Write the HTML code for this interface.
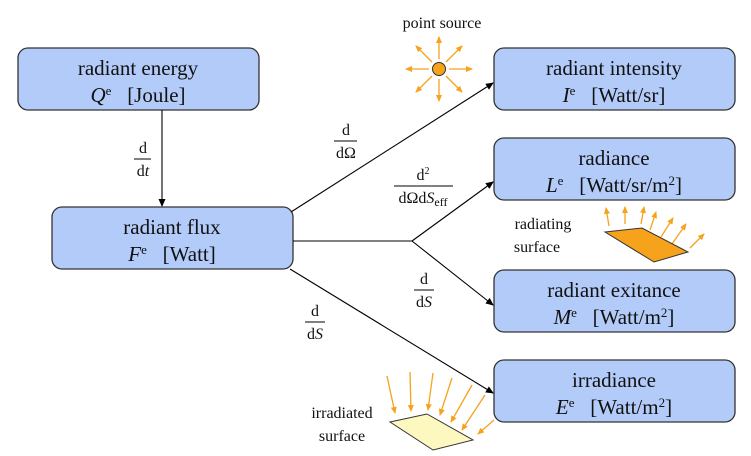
<!DOCTYPE html>
<html><head><style>body{margin:0;background:#fff}svg{display:block}text{font-family:"Liberation Serif",serif;fill:#111;white-space:pre}</style></head><body>
<svg width="751" height="456" viewBox="0 0 751 456" xmlns="http://www.w3.org/2000/svg">
<defs>
<marker id="a" markerWidth="8" markerHeight="8" refX="7" refY="4" orient="auto" markerUnits="userSpaceOnUse"><path d="M0,0.5 L8,4 L0,7.5z" fill="#000"/></marker>
<marker id="o" markerWidth="7" markerHeight="7" refX="6" refY="3.5" orient="auto" markerUnits="userSpaceOnUse"><path d="M0,0.5 L7,3.5 L0,6.5z" fill="#f7a21b"/></marker>
</defs>
<g fill="#b3cbf9" stroke="#333" stroke-width="1.3">
<rect x="18" y="48" width="241" height="62" rx="10"/>
<rect x="52" y="207" width="241" height="62" rx="10"/>
<rect x="494" y="48" width="241" height="62" rx="10"/>
<rect x="494" y="138" width="241" height="62" rx="10"/>
<rect x="494" y="270" width="241" height="62" rx="10"/>
<rect x="494" y="360" width="241" height="62" rx="10"/>
</g>
<g font-size="21" text-anchor="middle">
<text x="138" y="75">radiant energy</text>
<text x="138" y="102"><tspan font-style="italic">Q</tspan><tspan font-size="13" dy="-7">e</tspan><tspan dy="7">   [Joule]</tspan></text>
<text x="172" y="234">radiant flux</text>
<text x="172" y="261"><tspan font-style="italic">F</tspan><tspan font-size="13" dy="-7">e</tspan><tspan dy="7">   [Watt]</tspan></text>
<text x="614" y="75">radiant intensity</text>
<text x="614" y="102"><tspan font-style="italic">I</tspan><tspan font-size="13" dy="-7">e</tspan><tspan dy="7">   [Watt/sr]</tspan></text>
<text x="614" y="165">radiance</text>
<text x="614" y="192"><tspan font-style="italic">L</tspan><tspan font-size="13" dy="-7">e</tspan><tspan dy="7">   [Watt/sr/m</tspan><tspan font-size="13" dy="-7">2</tspan><tspan dy="7">]</tspan></text>
<text x="614" y="297">radiant exitance</text>
<text x="614" y="324"><tspan font-style="italic">M</tspan><tspan font-size="13" dy="-7">e</tspan><tspan dy="7">   [Watt/m</tspan><tspan font-size="13" dy="-7">2</tspan><tspan dy="7">]</tspan></text>
<text x="614" y="387">irradiance</text>
<text x="614" y="414"><tspan font-style="italic">E</tspan><tspan font-size="13" dy="-7">e</tspan><tspan dy="7">   [Watt/m</tspan><tspan font-size="13" dy="-7">2</tspan><tspan dy="7">]</tspan></text>
</g>
<g stroke="#000" stroke-width="1.1" fill="none">
<line x1="162" y1="110" x2="162" y2="206" marker-end="url(#a)"/>
<line x1="291" y1="212" x2="493" y2="83" marker-end="url(#a)"/>
<polyline points="293,241 412,241"/>
<line x1="412" y1="241" x2="493" y2="182" marker-end="url(#a)"/>
<line x1="412" y1="241" x2="493" y2="305" marker-end="url(#a)"/>
<line x1="290" y1="269" x2="493" y2="393" marker-end="url(#a)"/>
<line x1="134" y1="159" x2="151" y2="159"/>
<line x1="334" y1="141" x2="357" y2="141"/>
<line x1="394" y1="186" x2="453" y2="186"/>
<line x1="414" y1="290" x2="434" y2="290"/>
<line x1="305" y1="322" x2="325" y2="322"/>
</g>
<g font-size="16" text-anchor="middle">
<text x="143" y="153">d</text><text x="143" y="176">d<tspan font-style="italic">t</tspan></text>
<text x="346" y="135">d</text><text x="346" y="158">dΩ</text>
<text x="423" y="180">d<tspan font-size="10" dy="-6">2</tspan></text><text x="423" y="203">dΩd<tspan font-style="italic">S</tspan><tspan font-size="12" dy="3">eff</tspan></text>
<text x="424" y="284">d</text><text x="424" y="307">d<tspan font-style="italic">S</tspan></text>
<text x="315" y="316">d</text><text x="315" y="339">d<tspan font-style="italic">S</tspan></text>
<text x="442" y="28">point source</text>
<text x="543" y="229">radiating</text><text x="537" y="252">surface</text>
<text x="342" y="418">irradiated</text><text x="342" y="441">surface</text>
</g>
<circle cx="439" cy="69" r="6.5" fill="#f7a21b" stroke="#333"/>
<g stroke="#f7a21b" stroke-width="1.3" fill="none" marker-end="url(#o)">
<line x1="439" y1="59" x2="439" y2="37"/><line x1="439" y1="79" x2="439" y2="101"/>
<line x1="429" y1="69" x2="406" y2="69"/><line x1="449" y1="69" x2="472" y2="69"/>
<line x1="432" y1="62" x2="416" y2="46"/><line x1="446" y1="62" x2="462" y2="46"/>
<line x1="432" y1="76" x2="416" y2="92"/><line x1="446" y1="76" x2="462" y2="92"/>
<line x1="609" y1="226" x2="606" y2="208"/><line x1="625" y1="224" x2="625" y2="207"/>
<line x1="641" y1="224" x2="644" y2="207"/><line x1="650" y1="230" x2="656" y2="212"/>
<line x1="661" y1="237" x2="673" y2="218"/><line x1="672" y1="244" x2="686" y2="224"/>
<line x1="690" y1="248" x2="704" y2="234"/>
<line x1="387" y1="376" x2="395" y2="413"/><line x1="410" y1="372" x2="411" y2="411"/>
<line x1="433" y1="373" x2="428" y2="410"/><line x1="452" y1="378" x2="440" y2="415"/>
<line x1="472" y1="385" x2="451" y2="422"/><line x1="485" y1="395" x2="462" y2="430"/>
<line x1="494" y1="420" x2="478" y2="434"/>
</g>
<polygon points="605,232 642,228 688,252 654,262" fill="#f7a21b" stroke="#333" stroke-width="1"/>
<polygon points="390,422 427,414 473,440 433,450" fill="#fdf8c0" stroke="#333" stroke-width="1"/>
</svg>
</body></html>
